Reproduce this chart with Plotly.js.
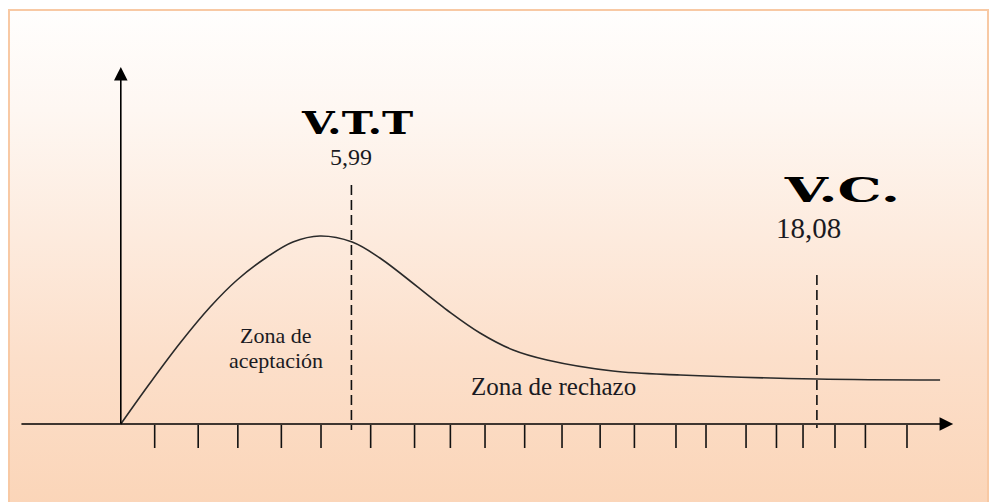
<!DOCTYPE html>
<html>
<head>
<meta charset="utf-8">
<script src="https://cdn.plot.ly/plotly-3.0.1.min.js"></script>
<style>
  html, body { margin: 0; padding: 0; background: #ffffff; }
  #wrap { position: relative; width: 997px; height: 502px; overflow: hidden; }
  #frame {
    position: absolute; left: 8px; top: 9px; width: 981px; height: 500px;
    border: 2px solid #f8c9a4; box-sizing: border-box;
    background: linear-gradient(to bottom, #fffefd 0%, #fef7f2 20%, #fdebde 45%, #fcdfca 70%, #fbd5b8 100%);
  }
  #chart { position: absolute; left: 0; top: 0; width: 997px; height: 502px; }
</style>
</head>
<body>
<div id="wrap">
  <div id="frame"></div>
  <div id="chart"></div>
</div>
<script>
// Curve (chi-square-like density sketch), x in statistic units, y in density units
const curveX = [0, 0.76, 1.54, 2.32, 3.02, 3.80, 4.47, 5.17, 6.01, 6.73, 8.47, 9.33, 10.19, 11.07, 12.78, 14.53, 18.08, 21.28];
const curveY = [0, 0.041, 0.081, 0.117, 0.144, 0.167, 0.182, 0.188, 0.182, 0.166, 0.114, 0.091, 0.074, 0.064, 0.053, 0.049, 0.045, 0.044];

// Hand-drawn tick marks on the horizontal axis
const tickX = [0.88, 2.01, 3.04, 4.17, 5.20, 6.49, 7.63, 8.56, 9.46, 10.49, 11.46, 12.45, 13.34, 14.42, 15.20, 16.24, 17.03, 17.72, 18.55, 19.34, 20.42];

// Critical values and their labels
const critValues = [5.99, 18.08];
const critNames = ["V.T.T", "V.C."];
const critTops = [0.239, 0.149];
const zoneLabels = ["Zona de", "aceptación", "Zona de rechazo"];

const fmt = v => String(v).replace('.', ',');

// tick segments
const tx = [], ty = [];
tickX.forEach(v => { tx.push(v, v, null); ty.push(-0.001, -0.024, null); });

const traces = [
  { x: curveX, y: curveY, mode: 'lines', line: { color: '#2a2a2a', width: 1.6, shape: 'spline', smoothing: 1.0 }, hoverinfo: 'skip' },
  { x: tx, y: ty, mode: 'lines', line: { color: '#111', width: 1.6 }, hoverinfo: 'skip' },
  { x: [critValues[0], critValues[0]], y: [critTops[0], -0.006], mode: 'lines', line: { color: '#111', width: 1.6, dash: '10px,5px' }, hoverinfo: 'skip' },
  { x: [critValues[1], critValues[1]], y: [critTops[1], -0.004], mode: 'lines', line: { color: '#111', width: 1.6, dash: '10px,5px' }, hoverinfo: 'skip' }
];

const serif = 'Liberation Serif, Times New Roman, serif';
const annotations = [
  // x axis with arrow
  { x: 21.62, y: 0, ax: -2.62, ay: 0, xref: 'x', yref: 'y', axref: 'x', ayref: 'y', text: '', showarrow: true, arrowhead: 2, arrowsize: 1.7, arrowwidth: 1.6, arrowcolor: '#000', standoff: 0 },
  // y axis with arrow
  { x: 0, y: 0.357, ax: 0, ay: -0.001, xref: 'x', yref: 'y', axref: 'x', ayref: 'y', text: '', showarrow: true, arrowhead: 2, arrowsize: 1.7, arrowwidth: 1.6, arrowcolor: '#000', standoff: 0 },
  { x: 6.135, y: 0.301, text: critNames[0], showarrow: false, font: { family: 'DejaVu Serif', size: 32, color: '#000', weight: 'bold' }, xanchor: 'center', yanchor: 'middle' },
  { x: 5.98, y: 0.267, text: fmt(critValues[0]), showarrow: false, font: { family: serif, size: 24, color: '#1a1a22' }, xanchor: 'center', yanchor: 'middle' },
  { x: 18.73, y: 0.234, text: critNames[1], showarrow: false, font: { family: 'DejaVu Serif', size: 33, color: '#000', weight: 'bold' }, xanchor: 'center', yanchor: 'middle' },
  { x: 17.87, y: 0.196, text: fmt(critValues[1]), showarrow: false, font: { family: serif, size: 29, color: '#1a1a22' }, xanchor: 'center', yanchor: 'middle' },
  { x: 4.01, y: 0.089, text: zoneLabels[0], showarrow: false, font: { family: serif, size: 22, color: '#1a1a22' }, xanchor: 'center', yanchor: 'middle' },
  { x: 4.02, y: 0.064, text: zoneLabels[1], showarrow: false, font: { family: serif, size: 22, color: '#1a1a22' }, xanchor: 'center', yanchor: 'middle' },
  { x: 11.25, y: 0.038, text: zoneLabels[2], showarrow: false, font: { family: serif, size: 25, color: '#1a1a22' }, xanchor: 'center', yanchor: 'middle' }
];

const layout = {
  width: 997, height: 502,
  margin: { l: 0, r: 0, t: 0, b: 0, pad: 0 },
  paper_bgcolor: 'rgba(0,0,0,0)', plot_bgcolor: 'rgba(0,0,0,0)',
  showlegend: false,
  xaxis: { range: [-3.1377, 22.758], visible: false, fixedrange: true },
  yaxis: { range: [-0.078, 0.424], visible: false, fixedrange: true },
  annotations: annotations
};

Plotly.newPlot('chart', traces, layout, { staticPlot: true, displayModeBar: false }).then(() => {
  // widen the heavy extended title lettering
  const targets = { 'V.T.T': 113, 'V.C.': 117 };
  document.querySelectorAll('#chart .annotation-text').forEach(t => {
    const s = t.textContent;
    if (targets[s]) {
      const w = t.getBBox().width;
      const k = targets[s] / w;
      t.style.transformBox = 'fill-box';
      t.style.transformOrigin = 'center';
      t.style.transform = 'scaleX(' + k.toFixed(3) + ')';
    }
  });
});
</script>
</body>
</html>
